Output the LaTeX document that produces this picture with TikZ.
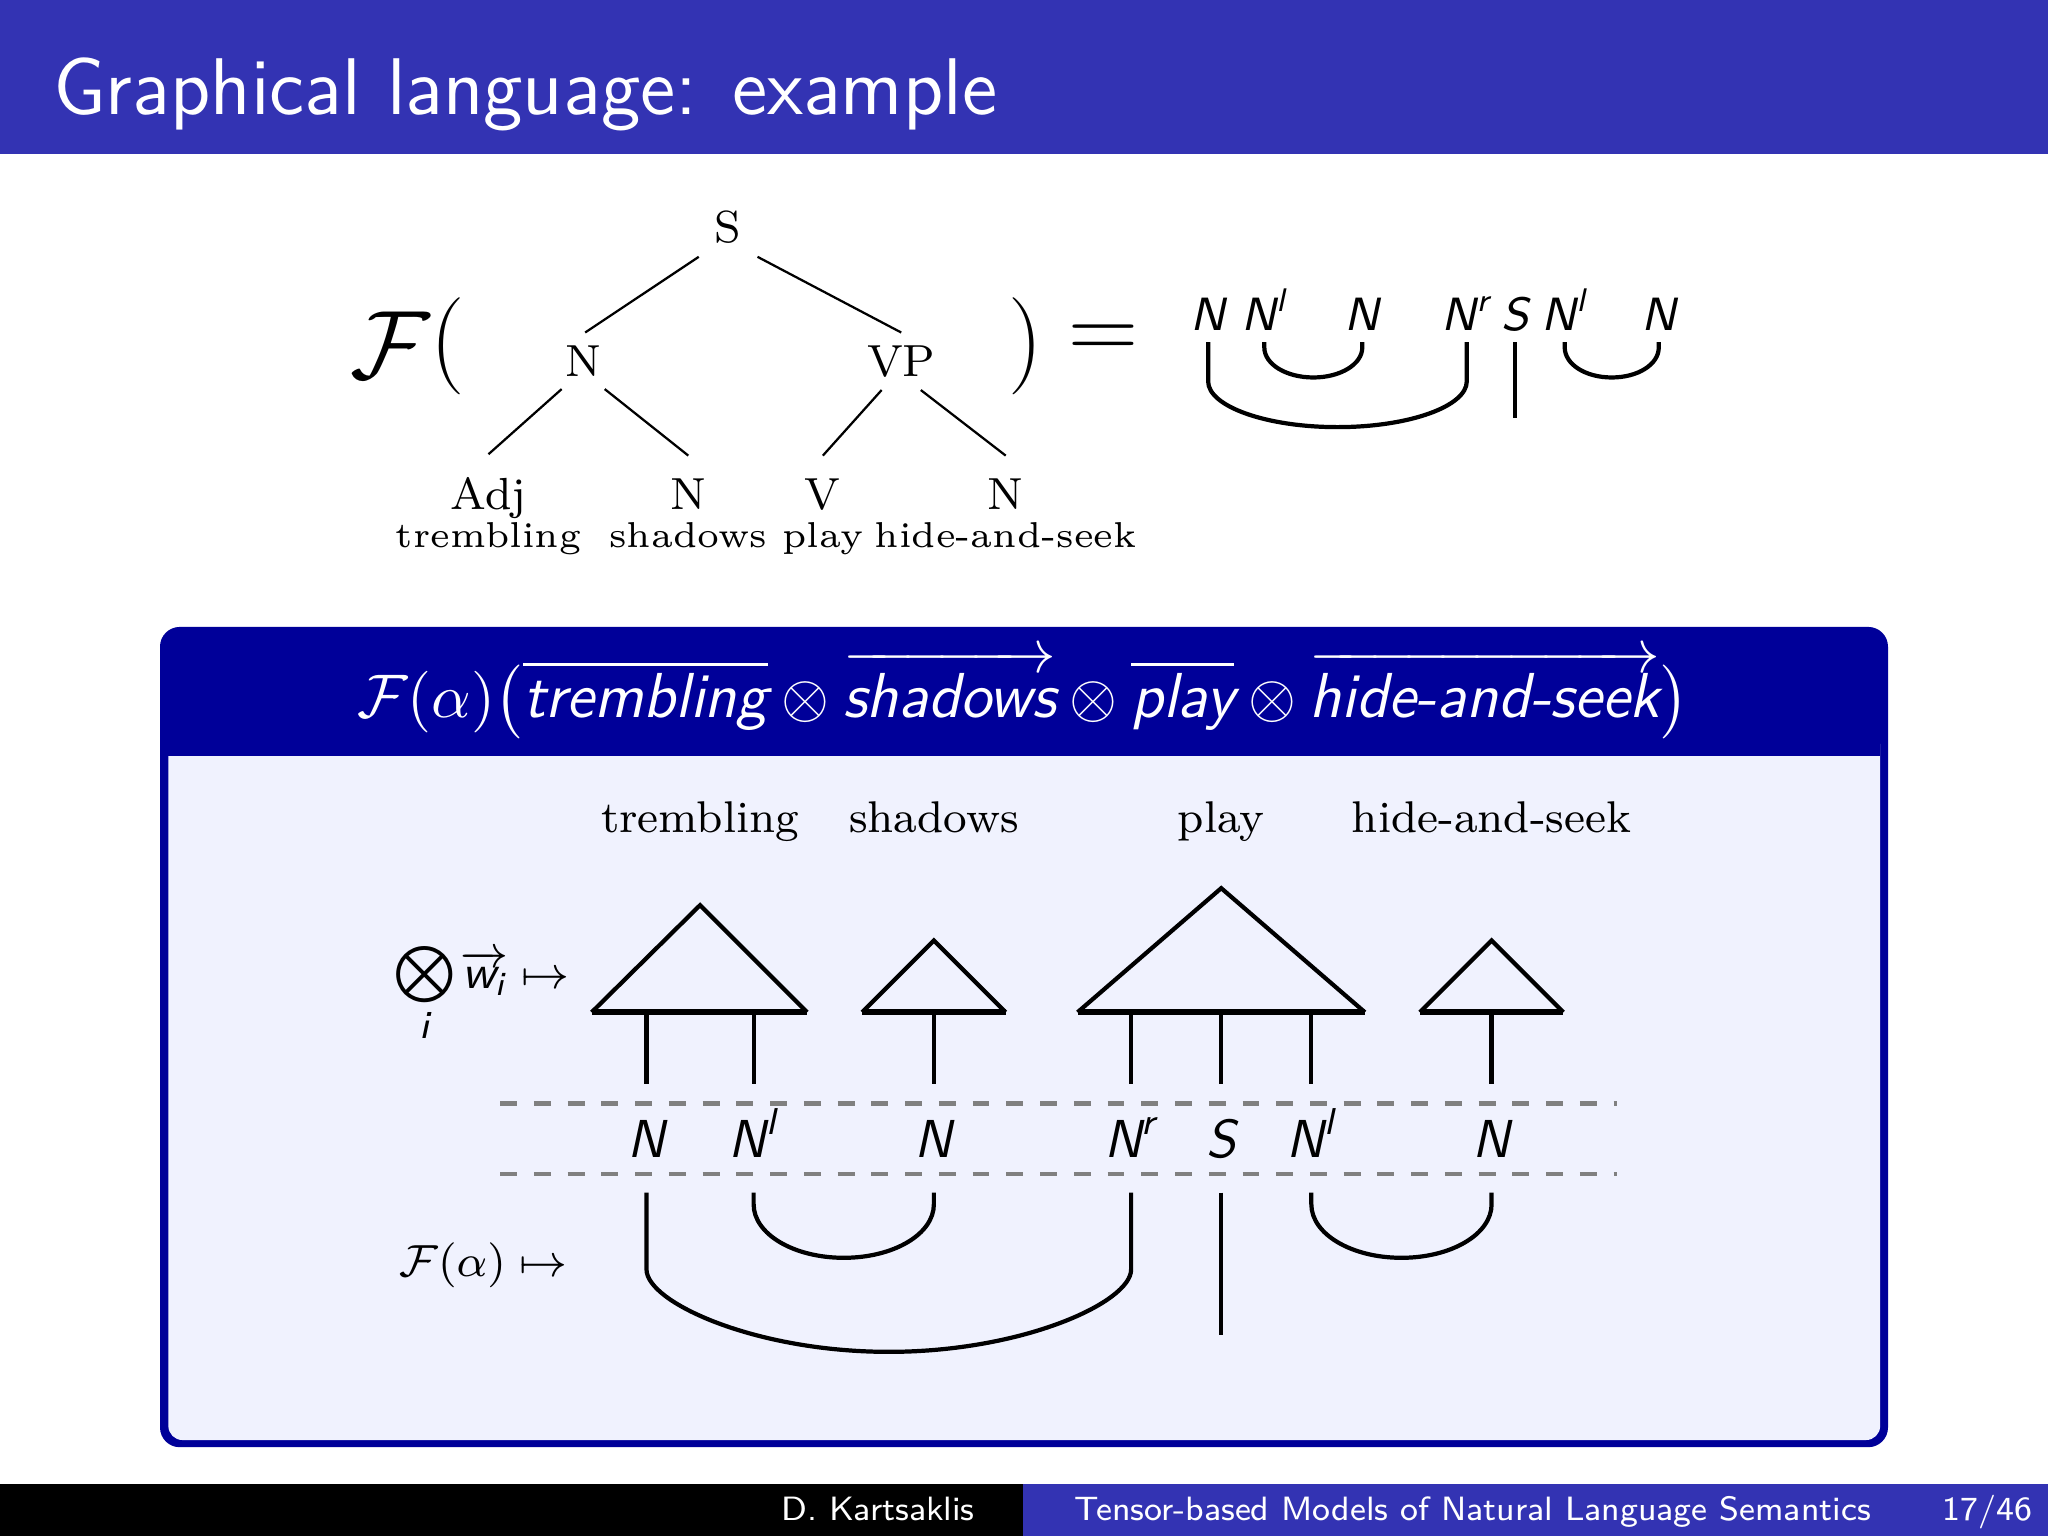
\documentclass[tikz,border=0pt]{standalone}
\usepackage{amsmath}
\usetikzlibrary{calc}
\definecolor{beamerblue}{RGB}{51,51,179}
\definecolor{blocktitle}{RGB}{0,0,153}
\definecolor{blockbody}{RGB}{240,242,254}
\definecolor{dashgray}{RGB}{128,128,128}
\newcommand{\sfi}[1]{\textsf{\itshape #1}}
\begin{document}
\begin{tikzpicture}[x=0.081633mm,y=-0.081633mm,
  treeinner/.style={font=\fontsize{8}{9.6}\selectfont, anchor=base, inner xsep=0pt, inner ysep=2.1pt},
  treeleaf/.style={font=\fontsize{8}{9.6}\selectfont, anchor=base, inner xsep=0pt, inner ysep=3.9pt},
  treeword/.style={font=\fontsize{6.4}{7.6}\selectfont, anchor=base, inner sep=0pt},
  treeline/.style={line width=0.4pt},
  toplab/.style={font=\fontsize{8.3}{9.8}\selectfont, anchor=base, inner sep=0pt},
  bodylab/.style={font=\fontsize{9.5}{11}\selectfont, anchor=base, inner sep=0pt},
  bodyword/.style={font=\fontsize{7.9}{9.5}\selectfont, anchor=base, inner sep=0pt},
  wire/.style={line width=0.75pt},
  tri/.style={line width=0.75pt, line join=miter},
  triBase/.style={line width=1.05pt},
  sep/.style={dashgray, line width=0.8pt, dashed},
  foot/.style={font=\sffamily\fontsize{6}{7.2}\selectfont, white, inner sep=0pt}
]
\useasboundingbox (0,0) rectangle (1568,1176);
\fill[white] (0,0) rectangle (1568,1176);
% title bar
\fill[beamerblue] (0,0) rectangle (1568,118);
\node[font=\sffamily\fontsize{14.3}{17}\selectfont, white, anchor=base west, inner sep=0pt] (title) at (40,88) {Graphical language: example};
% footer
\fill[black] (0,1136) rectangle (783,1176);
\fill[beamerblue] (783,1136) rectangle (1568,1176);
\node[foot, anchor=base east] (author) at (747,1164) {D. Kartsaklis};
\node[foot, anchor=base west] (talk) at (822,1164) {Tensor-based Models of Natural Language Semantics};
\node[foot, anchor=base east] (page) at (1557,1164) {17/46};

% ---- top: F( tree ) = diagram
\node[font=\fontsize{16}{19}\selectfont, inner sep=0pt] (bigF) at (299,264) {$\mathcal{F}$};
\node[font=\fontsize{16.5}{19}\selectfont, inner sep=0pt] (lpar) at (343,265) {$($};
\node[font=\fontsize{16.5}{19}\selectfont, inner sep=0pt] (rpar) at (785,265) {$)$};
\node[font=\fontsize{16.5}{19}\selectfont, inner sep=0pt] (eq) at (845,262) {$=$};

\node[treeinner] (S) at (557,186) {S};
\node[treeinner] (N1) at (447,288) {N};
\node[treeinner] (VP) at (690,288) {VP};
\node[treeleaf] (Adj) at (374,390) {Adj};
\node[treeleaf] (N2) at (527,390) {N};
\node[treeleaf] (V) at (630,390) {V};
\node[treeleaf] (N3) at (770,390) {N};
\node[treeword] (wt) at (374,419) {trembling};
\node[treeword] (ws) at (527,419) {shadows};
\node[treeword] (wp) at (630,419) {play};
\node[treeword] (wh) at (770,419) {hide-and-seek};
\draw[treeline] ($(S.south)+(-22,0)$) -- ($(N1.north)+(1,0)$);
\draw[treeline] ($(S.south)+(23,0)$) -- (VP.north);
\draw[treeline] ($(N1.south)+(-17,0)$) -- (Adj.north);
\draw[treeline] ($(N1.south)+(16,0)$) -- (N2.north);
\draw[treeline] ($(VP.south)+(-15,0)$) -- (V.north);
\draw[treeline] ($(VP.south)+(15,0)$) -- (N3.north);

% top-right pregroup diagram
\node[toplab] (ta) at (925,253) {$\sfi{N}$};
\node[toplab] (tb) at (968,253) {$\sfi{N}^{\sfi{l}}$};
\node[toplab] (tc) at (1043,253) {$\sfi{N}$};
\node[toplab] (td) at (1123,253) {$\sfi{N}^{\sfi{r}}$};
\node[toplab] (te) at (1160,253) {$\sfi{S}$};
\node[toplab] (tf) at (1198,253) {$\sfi{N}^{\sfi{l}}$};
\node[toplab] (tg) at (1270,253) {$\sfi{N}$};
\coordinate (ta1) at (925,262); \coordinate (tb1) at (968,262);
\coordinate (tc1) at (1043,262); \coordinate (td1) at (1123,262);
\coordinate (te1) at (1160,262); \coordinate (te2) at (1160,320);
\coordinate (tf1) at (1198,262); \coordinate (tg1) at (1270,262);
\draw[wire] (ta1) -- (925,292) .. controls (925,311) and (969,327) .. (1024,327)
  .. controls (1079,327) and (1123,311) .. (1123,292) -- (td1);
\draw[wire] (tb1) -- (968,266) .. controls (968,279) and (985,289) .. (1005.5,289)
  .. controls (1026,289) and (1043,279) .. (1043,266) -- (tc1);
\draw[wire] (te1) -- (te2);
\draw[wire] (tf1) -- (1198,266) .. controls (1198,279) and (1214,289) .. (1234,289)
  .. controls (1254,289) and (1270,279) .. (1270,266) -- (tg1);

% ---- block
\fill[blocktitle, rounded corners=3.5pt] (122.5,480) rectangle (1445.5,1108);
\fill[blockbody, rounded corners=2.5pt] (128.9,560) rectangle (1439.5,1102.5);
\fill[blocktitle] (128.9,555) rectangle (1439.5,579);
\node[font=\fontsize{11.3}{13.5}\selectfont, white, inner sep=0pt, anchor=base] (btitle) at (783,549)
  {$\mathcal{F}(\alpha)\bigl(\overline{\sfi{trembling}}\otimes\overrightarrow{\sfi{shadows}}\otimes\overline{\sfi{play}}\otimes\overrightarrow{\sfi{hide-and-seek}}\bigr)$};

% words
\node[bodyword] (bw1) at (536,637) {trembling};
\node[bodyword] (bw2) at (715,637) {shadows};
\node[bodyword] (bw3) at (935,637) {play};
\node[bodyword] (bw4) at (1142,637) {hide-and-seek};

% left labels
\node[font=\fontsize{10}{12}\selectfont, inner sep=0pt, anchor=base] (otimeslab) at (325,757)
  {$\bigotimes\limits_{\sfi{i}}$};
\node[font=\fontsize{8.5}{10}\selectfont, inner sep=0pt, anchor=base west] (tensorlab) at (352,757)
  {$\overrightarrow{\sfi{w}_{\sfi{i}}}\mapsto$};
\node[font=\fontsize{8.5}{10}\selectfont, inner sep=0pt, anchor=base west] (falab) at (305,977)
  {$\mathcal{F}(\alpha)\mapsto$};

% triangles
\draw[tri] (453,775) -- (536,693) -- (618,775);
\draw[triBase] (453,775) -- (618,775);
\draw[tri] (660,775) -- (715,720) -- (770,775);
\draw[triBase] (660,775) -- (770,775);
\draw[tri] (825,775) -- (935,680) -- (1045,775);
\draw[triBase] (825,775) -- (1045,775);
\draw[tri] (1087,775) -- (1142,720) -- (1197,775);
\draw[triBase] (1087,775) -- (1197,775);

% upper wires
\foreach \i/\x in {1/495,2/577,3/715,4/866,5/935,6/1004,7/1142}{
  \coordinate (u\i) at (\x,775);
  \coordinate (v\i) at (\x,830);
  \coordinate (w\i) at (\x,913);
  \draw[wire] (u\i) -- (v\i);
}

% dashed separators
\coordinate (d1a) at (383,845); \coordinate (d1b) at (1238,845);
\coordinate (d2a) at (383,899); \coordinate (d2b) at (1238,899);
\draw[sep] (d1a) -- (d1b);
\draw[sep] (d2a) -- (d2b);

% type labels
\node[bodylab] (l1) at (495,886) {$\sfi{N}$};
\node[bodylab] (l2) at (577,886) {$\sfi{N}^{\sfi{l}}$};
\node[bodylab] (l3) at (715,886) {$\sfi{N}$};
\node[bodylab] (l4) at (866,886) {$\sfi{N}^{\sfi{r}}$};
\node[bodylab] (l5) at (935,886) {$\sfi{S}$};
\node[bodylab] (l6) at (1004,886) {$\sfi{N}^{\sfi{l}}$};
\node[bodylab] (l7) at (1142,886) {$\sfi{N}$};

% lower wires (cups)
\draw[wire] (w1) -- (495,972) .. controls (495,997) and (578,1035) .. (680.5,1035)
  .. controls (783,1035) and (866,997) .. (866,972) -- (w4);
\draw[wire] (w2) -- (577,922) .. controls (577,945) and (608,963) .. (646,963)
  .. controls (684,963) and (715,945) .. (715,922) -- (w3);
\coordinate (sEnd) at (935,1022);
\draw[wire] (w5) -- (sEnd);
\draw[wire] (w6) -- (1004,922) .. controls (1004,945) and (1035,963) .. (1073,963)
  .. controls (1111,963) and (1142,945) .. (1142,922) -- (w7);
\end{tikzpicture}
\end{document}
